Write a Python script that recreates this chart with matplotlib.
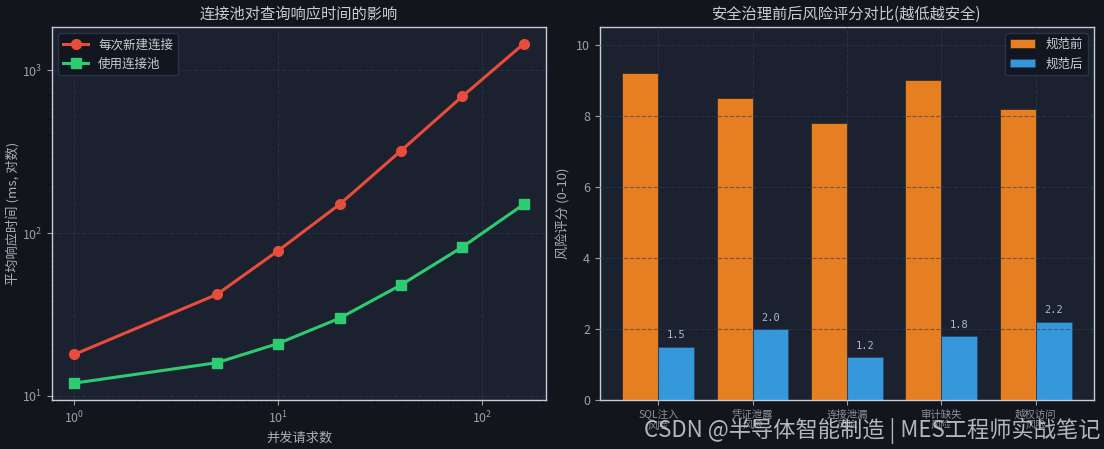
import numpy as np
import matplotlib
matplotlib.use("Agg")
import matplotlib.pyplot as plt

plt.rcParams['font.family'] = ['Noto Sans CJK SC', 'DejaVu Sans']
plt.rcParams['axes.unicode_minus'] = False

# left chart data
concurrency = [1, 5, 10, 20, 40, 80, 160]
no_pool_ms = [18, 42, 78, 150, 320, 690, 1450]
pool_ms = [12, 16, 21, 30, 48, 82, 150]

# right chart data
risk_names = ['SQL注入\n风险', '凭证泄露\n风险', '连接泄漏\n风险', '审计缺失\n风险', '越权访问\n风险']
score_before = [9.2, 8.5, 7.8, 9.0, 8.2]
score_after = [1.5, 2.0, 1.2, 1.8, 2.2]

fig_bg = '#12151c'
ax_bg = '#1c2130'
txt = '#c9ccd2'
grid_c = '#2c3d58'

fig, (ax1, ax2) = plt.subplots(1, 2, figsize=(11.04, 4.49), dpi=100)
fig.patch.set_facecolor(fig_bg)
plt.subplots_adjust(left=0.047, right=0.991, top=0.94, bottom=0.109, wspace=0.109)

for ax in (ax1, ax2):
    ax.set_facecolor(ax_bg)
    for s in ax.spines.values():
        s.set_color('#c8ccd4')
        s.set_linewidth(1.0)
    ax.tick_params(colors='#9aa0aa', labelcolor='#9aa0aa', labelsize=9)
    ax.grid(True, color=grid_c, linestyle='--', linewidth=0.8, alpha=0.6)

# connection pool chart
ax1.plot(concurrency, no_pool_ms, '-o', color='#e74c3c', lw=2.2, ms=7, label='每次新建连接')
ax1.plot(concurrency, pool_ms, '-s', color='#2ecc71', lw=2.2, ms=7, label='使用连接池')
ax1.set_xscale('log')
ax1.set_yscale('log')
ax1.set_title('连接池对查询响应时间的影响', color=txt, fontsize=11, pad=6)
ax1.set_xlabel('并发请求数', color='#a8adb6', fontsize=9.5)
ax1.set_ylabel('平均响应时间 (ms, 对数)', color='#a8adb6', fontsize=9.5, labelpad=1)
ax1.legend(loc='upper left', fontsize=9, facecolor='#121620', edgecolor='#2a3344',
           labelcolor=txt, framealpha=1)

# risk score chart
x = np.arange(len(risk_names))
w = 0.38
ax2.set_axisbelow(False)
ax2.bar(x - w / 2, score_before, w, color='#e67e22', edgecolor='#3a2a20', linewidth=0.6,
        label='规范前', zorder=1)
ax2.bar(x + w / 2, score_after, w, color='#3498db', edgecolor='#1f4a70', linewidth=0.6,
        label='规范后', zorder=1)
for xi, v in zip(x, score_after):
    ax2.text(xi + w / 2, v + 0.18, f'{v:.1f}', ha='center', va='bottom',
             color='#a9bcd2', fontsize=7.5, family='DejaVu Sans Mono')
ax2.set_ylim(0, 10.5)
ax2.set_xticks(x)
ax2.set_xticklabels(risk_names, fontsize=7.5, color='#8a909a', linespacing=1.0)
ax2.set_title('安全治理前后风险评分对比(越低越安全)', color=txt, fontsize=11, pad=6)
ax2.set_ylabel('风险评分 (0-10)', color='#a8adb6', fontsize=9.5)
ax2.legend(loc='upper right', fontsize=9, facecolor='#121620', edgecolor='#2a3344',
           labelcolor=txt, framealpha=1)

# watermark
fig.text(0.997, 0.012, 'CSDN @半导体智能制造 | MES工程师实战笔记', ha='right', va='bottom',
         color='#d4d4d4', fontsize=16, alpha=0.85)

fig.savefig('out.png', dpi=100, facecolor=fig_bg)
